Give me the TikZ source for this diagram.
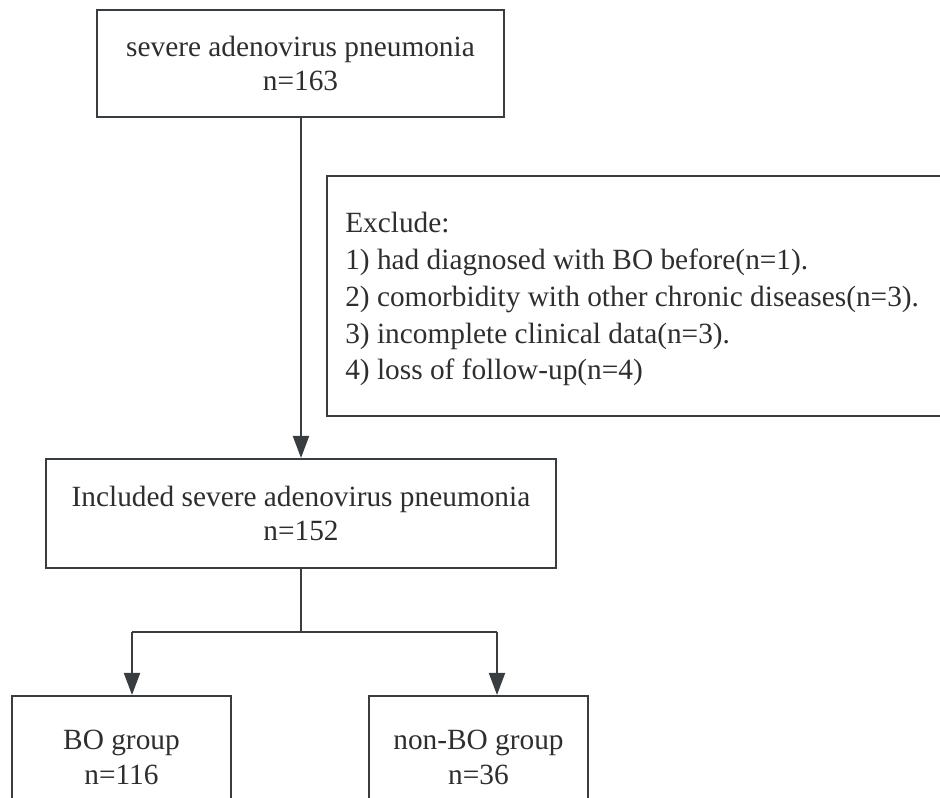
\documentclass[tikz,border=0pt]{standalone}
\usepackage{fontspec}
\setmainfont{Liberation Serif}
\usetikzlibrary{arrows.meta}
\definecolor{linec}{HTML}{3A3D40}
\definecolor{textc}{HTML}{2E2E2E}
\tikzset{
  boxst/.style={draw=linec, line width=1.5pt, text=textc, align=center, inner sep=0pt,
    font=\fontsize{22}{26.2}\selectfont},
  txtst/.style={text=textc, align=left, inner sep=0pt, font=\fontsize{22}{27.6}\selectfont},
  conn/.style={draw=linec, line width=1.5pt},
  arr/.style={conn, -{Triangle[width=12pt,length=16.5pt]}}
}
\begin{document}
\begin{tikzpicture}[x=0.75pt,y=-0.75pt]
\useasboundingbox (0,0) rectangle (940,798);
\node[boxst, minimum width=407*0.75pt, minimum height=107*0.75pt] (top) at (300.5,63.5)
  {severe adenovirus pneumonia\\n=163};
\node[boxst, anchor=north west, minimum width=640*0.75pt, minimum height=240*0.75pt] (excl) at (326,175) {};
\node[txtst, anchor=base west] (excltxt) at (345,380)
  {Exclude:\\1) had diagnosed with BO before(n=1).\\2) comorbidity with other chronic diseases(n=3).\\3) incomplete clinical data(n=3).\\4) loss of follow-up(n=4)};
\node[boxst, minimum width=510*0.75pt, minimum height=109*0.75pt] (mid) at (301,513.5)
  {Included severe adenovirus pneumonia\\n=152};
\node[boxst, anchor=north, minimum width=219*0.75pt, minimum height=122*0.75pt] (bo) at (121.5,695)
  {BO group\\n=116};
\node[boxst, anchor=north, minimum width=219*0.75pt, minimum height=122*0.75pt] (nonbo) at (478.5,695)
  {non-BO group\\n=36};
\coordinate (jM) at (301,632);
\coordinate (jL) at (132,632);
\coordinate (jR) at (497,632);
\draw[arr] (top.south -| mid.north) -- (mid.north);
\draw[conn] (mid.south) -- (jM);
\draw[conn] (jL) -- (jR);
\draw[arr] (jL) -- (jL |- bo.north);
\draw[arr] (jR) -- (jR |- nonbo.north);
\end{tikzpicture}
\end{document}
